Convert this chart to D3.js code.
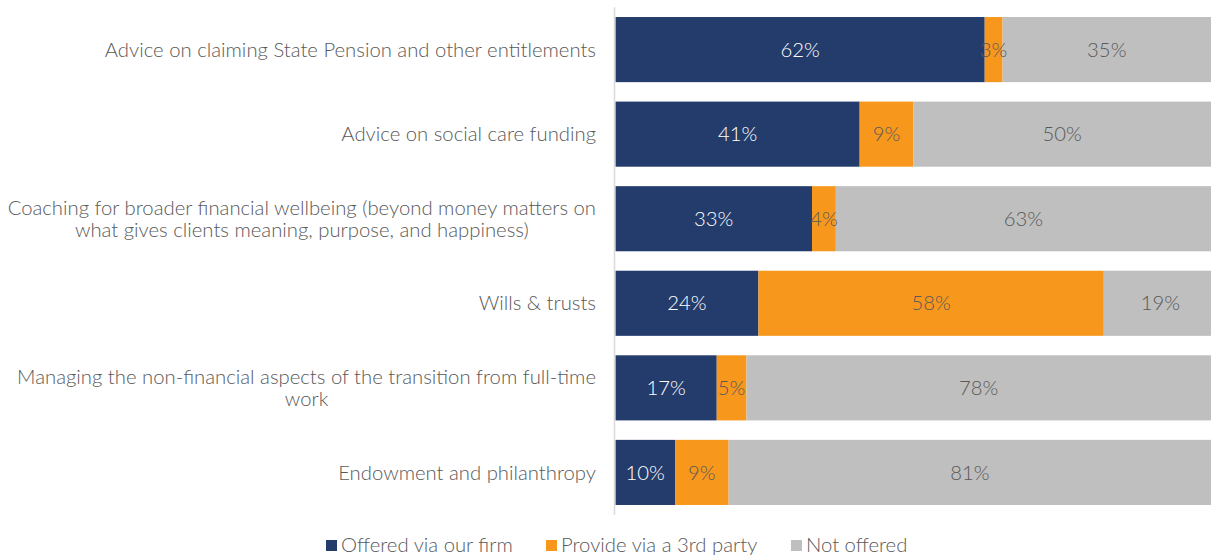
<!DOCTYPE html>
<html>
<head>
<meta charset="utf-8">
<script src="https://cdn.jsdelivr.net/npm/d3@7"></script>
<style>
  html, body { margin: 0; padding: 0; background: #fff; }
  svg { display: block; font-family: Lato, "Open Sans", sans-serif; font-weight: 300; }
</style>
</head>
<body>
<svg id="chart" width="1211" height="555"></svg>
<script>
// Services offered to clients in retirement
const categories = [
  ["Advice on claiming State Pension and other entitlements"],
  ["Advice on social care funding"],
  ["Coaching for broader financial wellbeing (beyond money matters on", "what gives clients meaning, purpose, and happiness)"],
  ["Wills & trusts"],
  ["Managing the non-financial aspects of the transition from full-time", "work"],
  ["Endowment and philanthropy"]
];
const seriesNames = ["Offered via our firm", "Provide via a 3rd party", "Not offered"];
const offeredViaFirm = [62, 41, 33, 24, 17, 10];
const viaThirdParty  = [3, 9, 4, 58, 5, 9];
const notOffered     = [35, 50, 63, 19, 78, 81];

const colors = ["#243c6c", "#f7981d", "#bfbfbf"];
const labelColors = ["#ffffff", "#595959", "#595959"];
const textColor = "#595959";
const fontSize = 20.3;

const svg = d3.select("#chart");
const x = d3.scaleLinear().domain([0, 100]).range([615.5, 1211]);
const y = d3.scaleBand()
  .domain(d3.range(categories.length))
  .range([7.3, 514.7])
  .paddingInner(0.23)
  .paddingOuter(0.115);

const rows = categories.map((c, i) => ({
  i,
  values: [offeredViaFirm[i], viaThirdParty[i], notOffered[i]]
}));
const stack = d3.stack().keys([0, 1, 2]).value((d, k) => d.values[k]);
const layers = stack(rows);

// bars
const g = svg.append("g");
layers.forEach((layer, k) => {
  g.selectAll(null).data(layer).join("rect")
    .attr("x", d => x(d[0]))
    .attr("y", d => y(d.data.i))
    .attr("width", d => x(d[1]) - x(d[0]))
    .attr("height", y.bandwidth())
    .attr("fill", colors[k]);
});

// value labels
layers.forEach((layer, k) => {
  g.selectAll(null).data(layer).join("text")
    .attr("x", d => (x(d[0]) + x(d[1])) / 2)
    .attr("y", d => y(d.data.i) + y.bandwidth() / 2)
    .attr("dy", "0.35em")
    .attr("text-anchor", "middle")
    .attr("font-size", fontSize)
    .attr("fill", labelColors[k])
    .text(d => (d[1] - d[0]) + "%");
});

// vertical axis line
svg.append("line")
  .attr("x1", 614.5).attr("x2", 614.5)
  .attr("y1", y.range()[0]).attr("y2", y.range()[1])
  .attr("stroke", "#d9d9d9").attr("stroke-width", 1.5);

// category labels (multi-line labels are centred within their block)
const labelRight = 596;
const lineH = 22;
categories.forEach((lines, i) => {
  const cy = y(i) + y.bandwidth() / 2;
  const t = svg.append("text")
    .attr("font-size", fontSize)
    .attr("fill", textColor);
  const spans = lines.map((ln, j) => t.append("tspan")
    .attr("y", cy + (j - (lines.length - 1) / 2) * lineH)
    .attr("dy", "0.35em")
    .text(ln));
  if (lines.length === 1) {
    t.attr("text-anchor", "end");
    spans[0].attr("x", labelRight);
  } else {
    const maxW = d3.max(spans, s => s.node().getComputedTextLength());
    t.attr("text-anchor", "middle");
    spans.forEach(s => s.attr("x", labelRight - maxW / 2));
  }
});

// legend
const legendX = [326, 546, 791];
const leg = svg.append("g");
seriesNames.forEach((name, k) => {
  leg.append("rect")
    .attr("x", legendX[k]).attr("y", 540)
    .attr("width", 11).attr("height", 11)
    .attr("fill", colors[k]);
  leg.append("text")
    .attr("x", legendX[k] + 15).attr("y", 552)
    .attr("font-size", fontSize)
    .attr("fill", textColor)
    .text(name);
});
</script>
</body>
</html>
